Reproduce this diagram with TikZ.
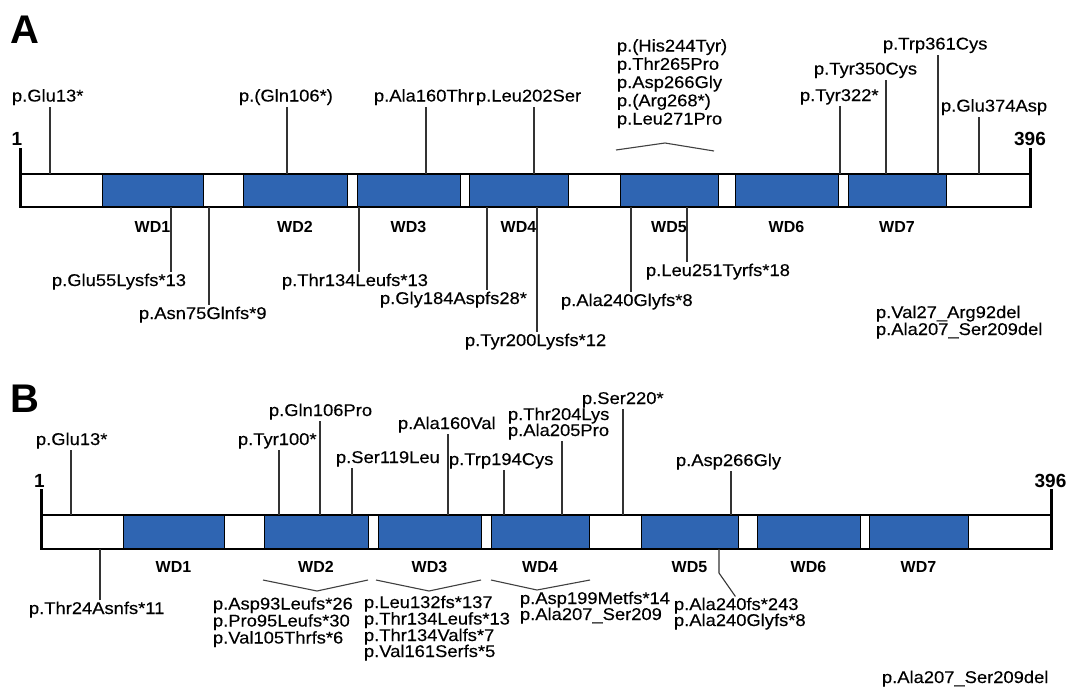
\documentclass[tikz,border=0pt]{standalone}
\usepackage{fontspec}
\setmainfont{Liberation Sans}
\newfontfamily\labf{Liberation Sans}[FakeStretch=1.08,FakeBold=0.25]
\definecolor{wdblue}{RGB}{47,101,178}
\tikzset{
  lab/.style={font=\labf\fontsize{17}{17}\selectfont, inner sep=0pt, outer sep=0pt, anchor=base west},
  wd/.style={font=\bfseries\fontsize{16}{16}\selectfont, inner sep=0pt, anchor=base},
  endnum/.style={font=\bfseries\fontsize{19}{19}\selectfont, inner sep=0pt, anchor=base},
  panel/.style={font=\bfseries\fontsize{40}{40}\selectfont, inner sep=0pt, anchor=base west},
  lead/.style={draw=black!80, line width=1.1pt, shorten >=1.5pt},
  caret/.style={draw=black!75, line width=1.1pt},
  dom/.style={fill=wdblue, draw=black, line width=1pt},
  barframe/.style={draw=black, line width=2.4pt},
  tickline/.style={draw=black, line width=3pt},
}
\begin{document}
\begin{tikzpicture}[x=1pt,y=-1pt]
\useasboundingbox[fill=white] (0,0) rectangle (1068,689);

% ================= Panel A =================
\node[panel] (pA) at (10,43) {A};
\node[endnum] (oneA) at (17,145) {1};
\node[endnum] (endA) at (1030,145) {396};

\fill[white] (20,174) rectangle (1030,207);
\foreach \l/\r in {102/203,243/347,357/460,469/568,620/718,735/838,848/946}
  \draw[dom] (\l,174) rectangle (\r,207);
\draw[barframe] (20,174) rectangle (1030,207);
\coordinate (tAl) at (20,148); \coordinate (tAlb) at (20,208);
\coordinate (tAr) at (1030,148); \coordinate (tArb) at (1030,208);
\draw[tickline] (tAl) -- (tAlb);
\draw[tickline] (tAr) -- (tArb);

\node[wd] (wd1A) at (152.5,232) {WD1};
\node[wd] (wd2A) at (295,232) {WD2};
\node[wd] (wd3A) at (408.5,232) {WD3};
\node[wd] (wd4A) at (518.5,232) {WD4};
\node[wd] (wd5A) at (669,232) {WD5};
\node[wd] (wd6A) at (786.5,232) {WD6};
\node[wd] (wd7A) at (897,232) {WD7};

% above bar A
\node[lab] (glu13A) at (12,101.5) {p.Glu13*};
\node[lab] (gln106A) at (239,101.5) {p.(Gln106*)};
\node[lab] (ala160A) at (374,101.5) {p.Ala160Thr};
\node[lab] (leu202A) at (476,101.5) {p.Leu202Ser};
\node[lab] (his244A) at (617,51.5) {p.(His244Tyr)};
\node[lab] (thr265A) at (617,69.8) {p.Thr265Pro};
\node[lab] (asp266A) at (617,88) {p.Asp266Gly};
\node[lab] (arg268A) at (617,106.3) {p.(Arg268*)};
\node[lab] (leu271A) at (617,124.5) {p.Leu271Pro};
\node[lab] (tyr322A) at (800,101) {p.Tyr322*};
\node[lab] (tyr350A) at (814,74.5) {p.Tyr350Cys};
\node[lab] (trp361A) at (883,49.5) {p.Trp361Cys};
\node[lab] (glu374A) at (941,111.5) {p.Glu374Asp};

\foreach \x/\n in {50/glu13A,287/gln106A,426/ala160A,534/leu202A,840/tyr322A,886/tyr350A,938/trp361A,979/glu374A}{
  \coordinate (u\n) at (\x,174);
  \draw[lead] (u\n) -- (u\n |- \n.south);
}
\coordinate (cA1) at (616,150); \coordinate (cA2) at (665,143); \coordinate (cA3) at (714,151);
\draw[caret] (cA1) -- (cA2) -- (cA3);

% below bar A
\node[lab] (glu55A) at (52,286) {p.Glu55Lysfs*13};
\node[lab] (asn75A) at (139,319) {p.Asn75Glnfs*9};
\node[lab] (thr134A) at (282,286) {p.Thr134Leufs*13};
\node[lab] (gly184A) at (380,304) {p.Gly184Aspfs28*};
\node[lab] (tyr200A) at (465,346) {p.Tyr200Lysfs*12};
\node[lab] (ala240A) at (561,306) {p.Ala240Glyfs*8};
\node[lab] (leu251A) at (646,276) {p.Leu251Tyrfs*18};
\node[lab] (val27A) at (876,318) {p.Val27\_Arg92del};
\node[lab] (ala207A) at (876,335) {p.Ala207\_Ser209del};

\foreach \x/\n in {171/glu55A,209/asn75A,359/thr134A,487/gly184A,537/tyr200A,631/ala240A,687/leu251A}{
  \coordinate (d\n) at (\x,207);
  \draw[lead] (d\n) -- (d\n |- \n.north);
}

% ================= Panel B =================
\node[panel] (pB) at (10,412) {B};
\node[endnum] (oneB) at (39.5,487) {1};
\node[endnum] (endB) at (1050.5,487) {396};

\fill[white] (41,515) rectangle (1051,549);
\foreach \l/\r in {123/224,264/368,378/481,491/589,641/738,757/860,869/968}
  \draw[dom] (\l,515) rectangle (\r,549);
\draw[barframe] (41,515) rectangle (1051,549);
\coordinate (tBl) at (41,489); \coordinate (tBlb) at (41,550);
\coordinate (tBr) at (1051,489); \coordinate (tBrb) at (1051,550);
\draw[tickline] (tBl) -- (tBlb);
\draw[tickline] (tBr) -- (tBrb);

\node[wd] (wd1B) at (173.5,572) {WD1};
\node[wd] (wd2B) at (316,572) {WD2};
\node[wd] (wd3B) at (429.5,572) {WD3};
\node[wd] (wd4B) at (540,572) {WD4};
\node[wd] (wd5B) at (689.5,572) {WD5};
\node[wd] (wd6B) at (808.5,572) {WD6};
\node[wd] (wd7B) at (918.5,572) {WD7};

% above bar B
\node[lab] (glu13B) at (36,445) {p.Glu13*};
\node[lab] (tyr100B) at (238,445) {p.Tyr100*};
\node[lab] (gln106B) at (269,416) {p.Gln106Pro};
\node[lab] (ser119B) at (336,463) {p.Ser119Leu};
\node[lab] (ala160B) at (398,429) {p.Ala160Val};
\node[lab] (trp194B) at (449,465) {p.Trp194Cys};
\node[lab] (thr204B) at (508,420) {p.Thr204Lys};
\node[lab] (ala205B) at (508,436) {p.Ala205Pro};
\node[lab] (ser220B) at (582,404) {p.Ser220*};
\node[lab] (asp266B) at (676,466) {p.Asp266Gly};

\foreach \x/\n in {71/glu13B,279/tyr100B,320/gln106B,352/ser119B,448/ala160B,504/trp194B,562/ala205B,623/ser220B,731/asp266B}{
  \coordinate (u\n) at (\x,515);
  \draw[lead] (u\n) -- (u\n |- \n.south);
}

% below bar B
\node[lab] (thr24B) at (29,614) {p.Thr24Asnfs*11};
\coordinate (dthr24B) at (100,549);
\draw[lead] (dthr24B) -- (dthr24B |- thr24B.north);

\coordinate (c2a) at (263,580); \coordinate (c2b) at (317,591); \coordinate (c2c) at (368,580);
\coordinate (c3a) at (376,580); \coordinate (c3b) at (429,591); \coordinate (c3c) at (481,580);
\coordinate (c4a) at (491,580); \coordinate (c4b) at (537,590); \coordinate (c4c) at (590,580);
\draw[caret] (c2a) -- (c2b) -- (c2c);
\draw[caret] (c3a) -- (c3b) -- (c3c);
\draw[caret] (c4a) -- (c4b) -- (c4c);

\node[lab] (asp93B) at (213,609.5) {p.Asp93Leufs*26};
\node[lab] (pro95B) at (213,626.5) {p.Pro95Leufs*30};
\node[lab] (val105B) at (213,643.5) {p.Val105Thrfs*6};

\node[lab] (leu132B) at (364,608) {p.Leu132fs*137};
\node[lab] (thr134lB) at (364,624.5) {p.Thr134Leufs*13};
\node[lab] (thr134vB) at (364,641) {p.Thr134Valfs*7};
\node[lab] (val161B) at (364,657) {p.Val161Serfs*5};

\node[lab] (asp199B) at (520,604) {p.Asp199Metfs*14};
\node[lab] (ala207sB) at (520,620) {p.Ala207\_Ser209};

\node[lab] (ala240aB) at (674,610) {p.Ala240fs*243};
\node[lab] (ala240gB) at (674,626) {p.Ala240Glyfs*8};
\coordinate (d240) at (719,549); \coordinate (k240) at (719,573);
\draw[lead] (d240) -- (k240) -- (ala240aB.north);

\node[lab] (ala207B) at (882,683) {p.Ala207\_Ser209del};
\end{tikzpicture}
\end{document}
